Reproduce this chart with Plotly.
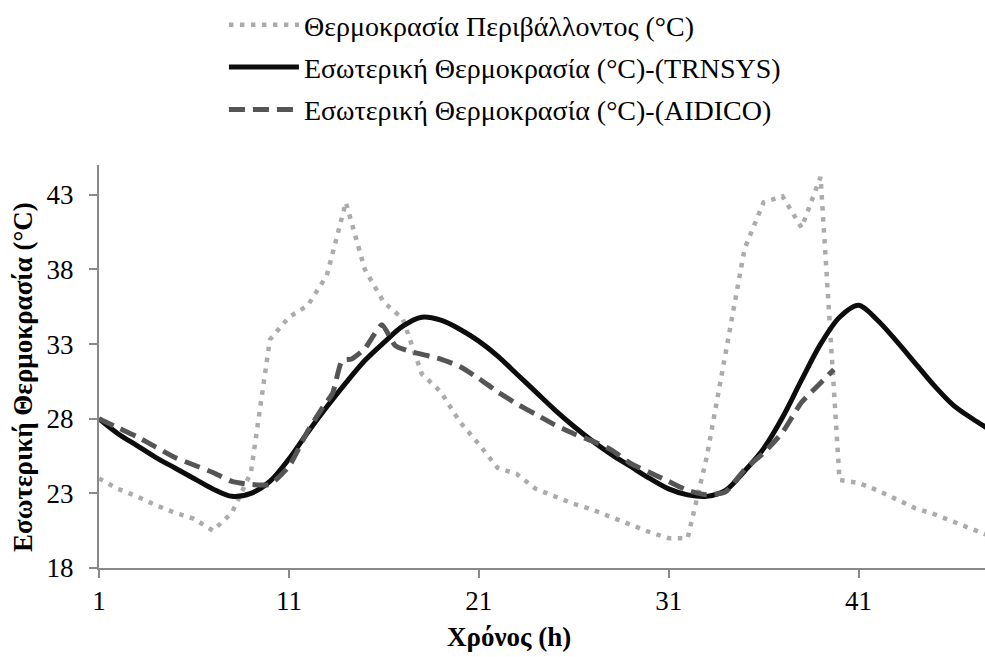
import plotly.graph_objects as go

# Hourly time axis (h)
hours = list(range(1, 49))

# Outdoor (ambient) temperature, °C
ambient_temp = [24.0, 23.3, 22.8, 22.2, 21.7, 21.3, 20.5, 21.7, 24.4, 33.3,
                34.8, 35.6, 37.6, 42.5, 38.0, 35.8, 34.7, 31.0, 29.8, 27.8,
                26.3, 24.7, 24.3, 23.3, 22.8, 22.3, 21.9, 21.4, 20.9, 20.4,
                20.0, 20.0, 25.4, 32.4, 39.4, 42.5, 42.9, 40.8, 44.2, 23.9,
                23.7, 23.2, 22.6, 22.0, 21.6, 21.1, 20.6, 20.1]

# Indoor temperature simulated with TRNSYS, °C
trnsys_temp = [28.0, 27.0, 26.2, 25.4, 24.7, 24.0, 23.3, 22.8, 23.0, 23.8,
               25.3, 27.1, 28.8, 30.4, 31.9, 33.1, 34.2, 34.8, 34.6, 34.0,
               33.2, 32.2, 31.0, 29.8, 28.6, 27.5, 26.5, 25.6, 24.8, 24.0,
               23.3, 22.9, 22.8, 23.2, 24.5, 26.0, 28.1, 30.6, 33.0, 34.8,
               35.6, 34.6, 33.2, 31.7, 30.2, 28.9, 28.0, 27.2]

# Indoor temperature measured by AIDICO (irregular sampling), °C
aidico_hours = [1, 2, 3, 4, 5, 6, 7, 8, 9, 10, 11, 12, 12.8, 13.3, 13.8, 14.3,
                15, 15.9, 16.6, 17.4, 19, 20, 21, 22, 23, 24, 25, 26, 27, 28,
                29, 30, 31, 32, 33, 34, 35, 36, 37, 38, 39, 39.7]
aidico_temp = [28.0, 27.4, 26.8, 26.1, 25.4, 24.9, 24.4, 23.8, 23.6, 23.6,
               24.8, 27.2, 28.8, 29.7, 31.9, 32.0, 32.7, 34.3, 32.9, 32.5,
               32.0, 31.5, 30.7, 29.8, 29.0, 28.3, 27.6, 27.0, 26.5, 25.9,
               25.0, 24.4, 23.8, 23.2, 22.9, 23.1, 24.6, 25.7, 27.1, 29.1,
               30.4, 31.3]

x_ticks = [1, 11, 21, 31, 41]
y_ticks = [18, 23, 28, 33, 38, 43]

names = ["Θερμοκρασία Περιβάλλοντος (°C)",
         "Εσωτερική Θερμοκρασία (°C)-(TRNSYS)",
         "Εσωτερική Θερμοκρασία (°C)-(AIDICO)"]

SERIF = "Liberation Serif"
AXIS_GREY = "#898989"

fig = go.Figure()
fig.add_trace(go.Scatter(
    x=hours, y=ambient_temp, mode="lines", name=names[0], legendgroup="a",
    line=dict(color="#ababab", width=4.5, dash="4.5px,6.5px")))
fig.add_trace(go.Scatter(
    x=hours, y=trnsys_temp, mode="lines", name=names[1], legendgroup="b",
    line=dict(color="#0d0d0d", width=5, shape="spline", smoothing=0.9)))
fig.add_trace(go.Scatter(
    x=aidico_hours, y=aidico_temp, mode="lines", name=names[2], legendgroup="c",
    line=dict(color="#555555", width=5, dash="16px,8px",
              shape="spline", smoothing=0.5)))

fig.update_layout(
    width=985, height=657,
    margin=dict(l=99, r=0, t=165, b=89),
    paper_bgcolor="white", plot_bgcolor="white",
    font=dict(family=SERIF, size=26, color="black"),
    showlegend=True,
    legend=dict(x=0.141, y=1.41, xanchor="left", yanchor="top",
                bgcolor="rgba(0,0,0,0)", itemwidth=70, tracegroupgap=3,
                font=dict(family=SERIF, size=28, color="black")),
    xaxis=dict(range=[1, 47.66], tickvals=x_ticks, ticks="outside", ticklen=8,
               tickwidth=2, tickcolor=AXIS_GREY, showline=True, linewidth=2,
               linecolor=AXIS_GREY, showgrid=False, zeroline=False,
               tickfont=dict(family=SERIF, size=27, color="black")),
    yaxis=dict(range=[18, 45], tickvals=y_ticks, ticks="outside", ticklen=8,
               tickwidth=2, tickcolor=AXIS_GREY, showline=True, linewidth=2,
               linecolor=AXIS_GREY, showgrid=False, zeroline=False,
               ticklabelstandoff=10,
               tickfont=dict(family=SERIF, size=27, color="black")),
    annotations=[
        dict(text="<b>Χρόνος (h)</b>", xref="paper", yref="paper",
             x=0.4628, y=-0.172, xanchor="center", yanchor="middle",
             showarrow=False, font=dict(family=SERIF, size=27, color="black")),
        dict(text="<b>Εσωτερική Θερμοκρασία (°C)</b>", xref="paper", yref="paper",
             x=-0.0858, y=0.474, xanchor="center", yanchor="middle",
             textangle=-90, showarrow=False,
             font=dict(family=SERIF, size=27, color="black")),
    ],
)

fig.write_html("out.html")
